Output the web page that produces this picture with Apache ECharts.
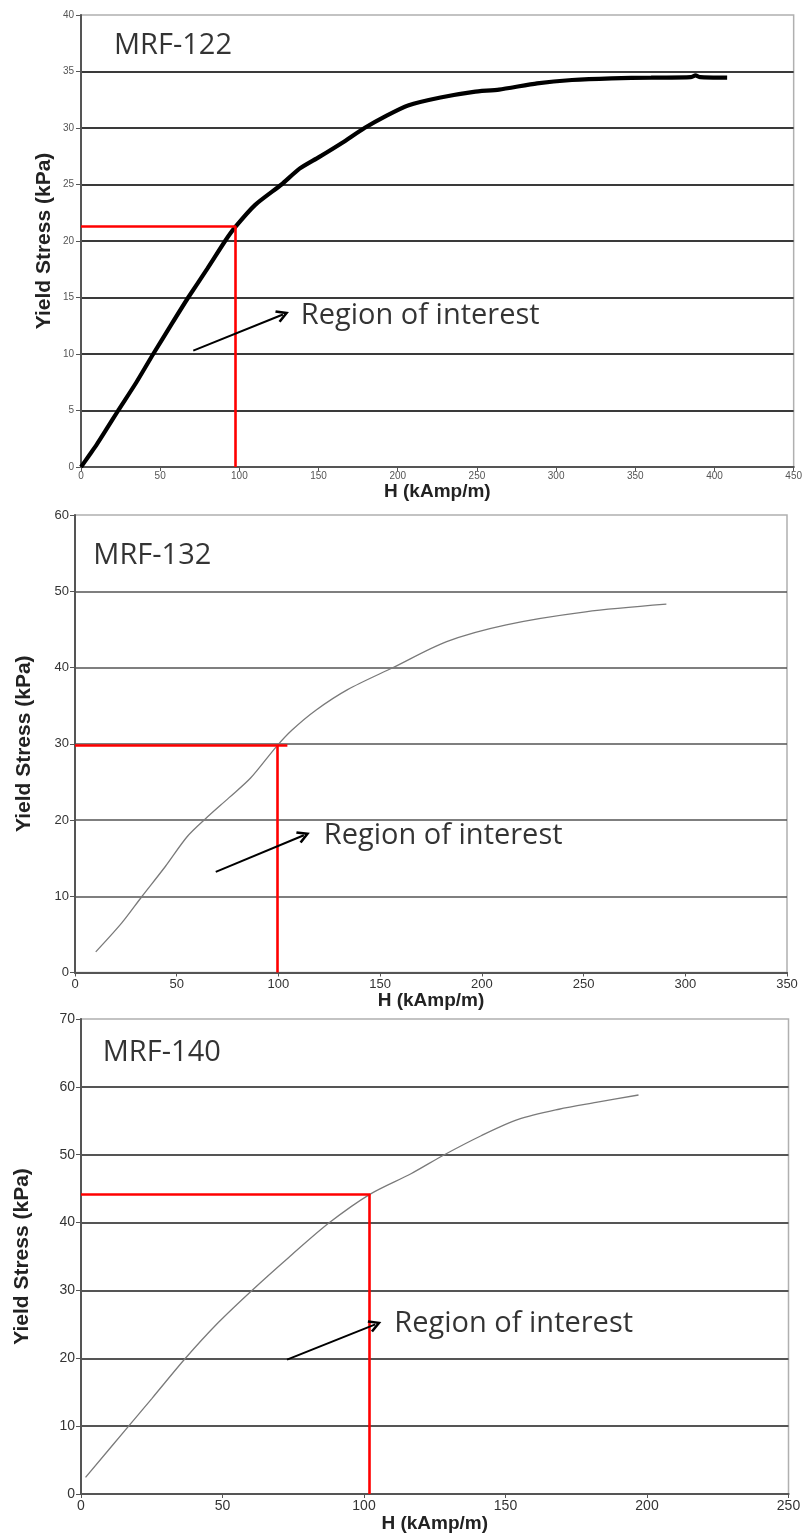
<!DOCTYPE html>
<html>
<head>
<meta charset="utf-8">
<script src="https://cdn.jsdelivr.net/npm/echarts@6/dist/echarts.min.js"></script>
<style>
  html, body { margin: 0; padding: 0; background: #fff; }
  #chart { width: 805px; height: 1538px; }
</style>
</head>
<body>
<div id="chart"></div>
<script>
// ---------- DATA ----------
const seriesNames = ['MRF-122', 'MRF-132', 'MRF-140'];
const annotationText = 'Region of interest';
const xAxisTitle = 'H (kAmp/m)';
const yAxisTitle = 'Yield Stress (kPa)';

// MRF-122 curve
const mrf122H      = [0, 5, 10, 15, 23.5, 35, 45.6, 57, 67.7, 80, 91, 97.2, 110, 126.6, 138, 150, 165, 179, 193, 206.5, 227, 248, 264, 288, 310, 335, 360, 385, 388, 391, 408];
const mrf122Stress = [0, 1, 2, 3.1, 5, 7.5, 10, 12.6, 15, 17.6, 20, 21.2, 23.2, 25, 26.4, 27.4, 28.7, 30, 31.1, 32, 32.7, 33.2, 33.4, 33.95, 34.25, 34.4, 34.45, 34.5, 34.65, 34.5, 34.45];

// MRF-132 curve
const mrf132H      = [10.2, 23, 32.7, 44.4, 55.1, 63.9, 75.6, 86.3, 98.9, 106.7, 118.4, 134, 156.4, 182.7, 212, 251, 290.7];
const mrf132Stress = [2.7, 6.5, 9.9, 13.9, 17.8, 20.1, 22.9, 25.5, 29.6, 31.8, 34.4, 37.1, 40, 43.4, 45.6, 47.3, 48.3];

// MRF-140 curve
const mrf140H      = [1.6, 16.6, 25.1, 36.9, 48.6, 60.4, 73.5, 87.8, 102.2, 116.6, 128.4, 141.4, 154.5, 168.9, 182, 197];
const mrf140Stress = [2.45, 9.9, 14.1, 20, 25.3, 30, 34.9, 40, 44.2, 47.2, 50, 52.8, 55.2, 56.7, 57.7, 58.8];

// Axis ranges [min, max, interval]
const xRanges = [[0, 450, 50], [0, 350, 50], [0, 250, 50]];
const yRanges = [[0, 40, 5], [0, 60, 10], [0, 70, 10]];

// Red guide lines: [H at vertical, stress at horizontal, H end of horizontal]
const guide122 = [97.2, 21.3, 97.8];
const guide132 = [99.3, 29.85, 104.4];
const guide140 = [102.0, 44.2, 102.2];

// Arrow endpoints in data units: [fromH, fromStress, toH, toStress]
const arrow122 = [70.9, 10.3, 127.5, 13.5];
const arrow132 = [69.2, 13.2, 112.5, 18.0];
const arrow140 = [72.8, 19.8, 104.0, 25.0];

// Text anchors in data units (left edge, vertical centre)
const roiAnchor122 = [138.8, 13.4];
const roiAnchor132 = [122.3, 18.0];
const roiAnchor140 = [110.7, 25.1];
const nameAnchor122 = [20.8, 37.26];
const nameAnchor132 = [9.0, 54.6];
const nameAnchor140 = [7.7, 65.0];

// ---------- BUILD ----------
const zip = (a, b) => a.map((v, i) => [v, b[i]]);
const curves = [zip(mrf122H, mrf122Stress), zip(mrf132H, mrf132Stress), zip(mrf140H, mrf140Stress)];
const guides = [guide122, guide132, guide140];
const arrows = [arrow122, arrow132, arrow140];
const roiAnchors = [roiAnchor122, roiAnchor132, roiAnchor140];
const nameAnchors = [nameAnchor122, nameAnchor132, nameAnchor140];

const narrow = '"Liberation Sans Narrow", "Arial Narrow", "Liberation Sans", Arial, sans-serif';
const chevron = 'path://M5,0 L10,10 L8.4,11.2 L5,4.4 L1.6,11.2 L0,10 Z';

const grids = [
  { left: 81, top: 15, width: 713, height: 452 },
  { left: 75, top: 515, width: 712, height: 457.5 },
  { left: 81, top: 1019, width: 707.5, height: 475 }
].map(g => Object.assign(g, { show: true, borderColor: '#b0b0b0', borderWidth: 1.5, backgroundColor: 'transparent', containLabel: false }));

const tickStyles = [
  { size: 10, color: '#555', family: narrow, xMargin: 4, yMargin: 7 },
  { size: 13, color: '#333', family: '"Liberation Sans", Arial, sans-serif', xMargin: 5, yMargin: 6 },
  { size: 14, color: '#333', family: narrow, xMargin: 5, yMargin: 6 }
];
const xNameGaps = [13, 13, 14];
const yNameGaps = [26, 40, 48];
const gridColors = ['#3a3a3a', '#555', '#555'];
const gridWidths = [2.2, 1.5, 2];
const curveStyles = [
  { color: '#000', width: 4.2, smooth: 0.2 },
  { color: '#7a7a7a', width: 1.3, smooth: 0.3 },
  { color: '#7a7a7a', width: 1.3, smooth: 0.3 }
];

const xAxes = [], yAxes = [], series = [];
for (let i = 0; i < 3; i++) {
  const ts = tickStyles[i];
  xAxes.push({
    type: 'value', gridIndex: i,
    min: xRanges[i][0], max: xRanges[i][1], interval: xRanges[i][2],
    name: xAxisTitle, nameLocation: 'middle', nameGap: xNameGaps[i],
    nameTextStyle: { fontFamily: narrow, fontWeight: 'bold', fontSize: 19, color: '#222', verticalAlign: 'top' },
    axisLine: { show: true, onZero: false, lineStyle: { color: '#555', width: 2.2 } },
    axisTick: { show: true, length: 4, lineStyle: { color: '#555', width: 1 } },
    axisLabel: { fontSize: ts.size, color: ts.color, fontFamily: ts.family, margin: ts.xMargin },
    splitLine: { show: false }
  });
  yAxes.push({
    type: 'value', gridIndex: i,
    min: yRanges[i][0], max: yRanges[i][1], interval: yRanges[i][2],
    name: yAxisTitle, nameLocation: 'middle', nameGap: yNameGaps[i], nameRotate: 90,
    nameMoveOverlap: false,
    nameTextStyle: { fontFamily: narrow, fontWeight: 'bold', fontSize: 21, color: '#222' },
    axisLine: { show: true, onZero: false, lineStyle: { color: '#555', width: 2 } },
    axisTick: { show: true, length: 5, lineStyle: { color: '#555', width: 1 } },
    axisLabel: { fontSize: ts.size, color: ts.color, fontFamily: ts.family, margin: ts.yMargin },
    splitLine: { show: true, showMinLine: false, showMaxLine: false, lineStyle: { color: gridColors[i], width: gridWidths[i] } }
  });

  const g = guides[i], a = arrows[i];
  series.push({
    type: 'line', xAxisIndex: i, yAxisIndex: i,
    data: curves[i], showSymbol: false, symbol: 'none',
    smooth: curveStyles[i].smooth,
    lineStyle: { color: curveStyles[i].color, width: curveStyles[i].width },
    silent: true, z: 3,
    markLine: {
      silent: true, animation: false, symbol: ['none', 'none'],
      label: { show: false },
      data: [
        [{ coord: [xRanges[i][0], g[1]], lineStyle: { color: '#ff0000', width: 2.6, type: 'solid' } }, { coord: [g[2], g[1]] }],
        [{ coord: [g[0], yRanges[i][0]], lineStyle: { color: '#ff0000', width: 2.6, type: 'solid' } }, { coord: [g[0], g[1]] }],
        [{ coord: [a[0], a[1]], symbol: 'none', lineStyle: { color: '#000', width: 2, type: 'solid' } },
         { coord: [a[2], a[3]], symbol: chevron, symbolSize: [13, 13] }]
      ]
    }
  });
  series.push({
    type: 'scatter', xAxisIndex: i, yAxisIndex: i, symbolSize: 0, silent: true, z: 5,
    data: [
      { value: roiAnchors[i], name: annotationText, label: { fontSize: 29 } },
      { value: nameAnchors[i], name: seriesNames[i], label: { fontSize: 29 } }
    ],
    label: { show: true, position: 'right', distance: 0, formatter: '{b}', color: '#000', fontFamily: '"Open Sans", "Noto Sans", sans-serif' }
  });
}

const chart = echarts.init(document.getElementById('chart'), null, { renderer: 'canvas' });
chart.setOption({
  animation: false,
  backgroundColor: '#fff',
  grid: grids,
  xAxis: xAxes,
  yAxis: yAxes,
  series: series
});
</script>
</body>
</html>
